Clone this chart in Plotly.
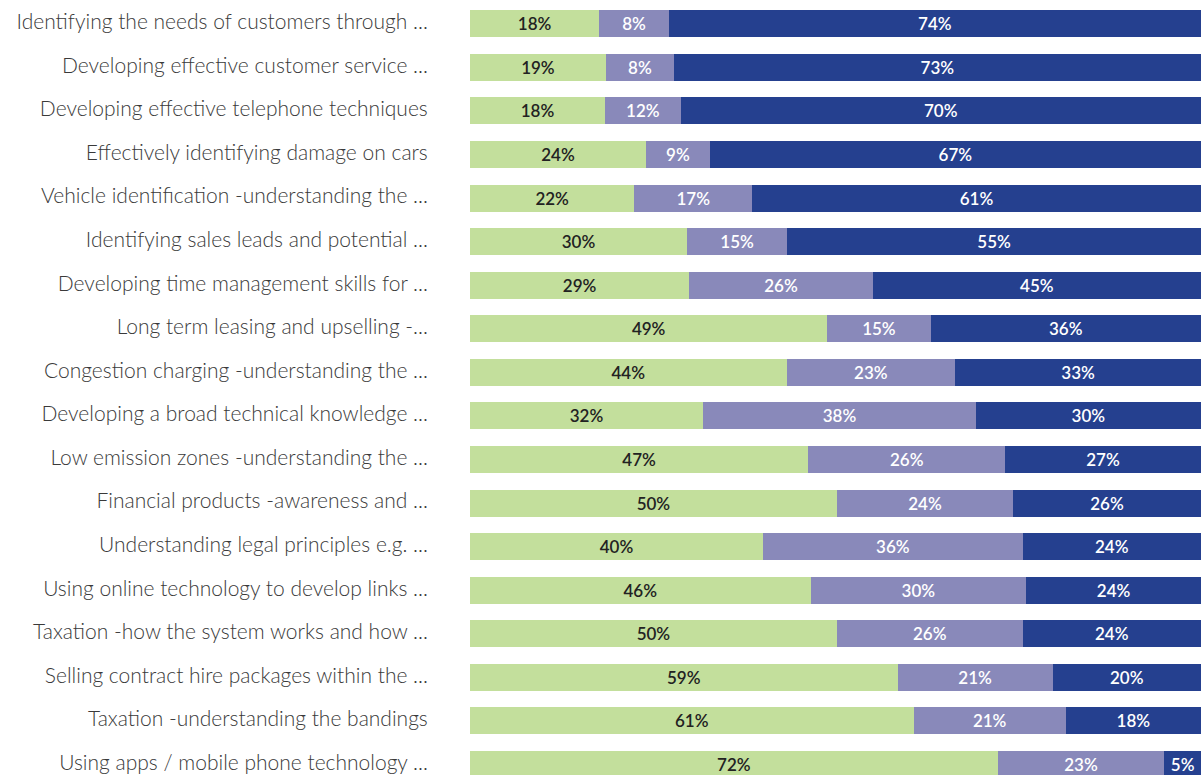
import plotly.graph_objects as go

categories = [
    "Identifying the needs of customers through ...",
    "Developing effective customer service ...",
    "Developing effective telephone techniques",
    "Effectively identifying damage on cars",
    "Vehicle identification -understanding the ...",
    "Identifying sales leads and potential ...",
    "Developing time management skills for ...",
    "Long term leasing and upselling -...",
    "Congestion charging -understanding the ...",
    "Developing a broad technical knowledge ...",
    "Low emission zones -understanding the ...",
    "Financial products -awareness and ...",
    "Understanding legal principles e.g. ...",
    "Using online technology to develop links ...",
    "Taxation -how the system works and how ...",
    "Selling contract hire packages within the ...",
    "Taxation -understanding the bandings",
    "Using apps / mobile phone technology ...",
]

# segment widths (percent of bar)
green_vals = [17.7, 18.6, 18.5, 24.1, 22.5, 29.7, 30.0, 48.9, 43.3, 31.9, 46.3, 50.2, 40.1, 46.6, 50.2, 58.5, 60.7, 72.2]
lav_vals = [9.5, 9.3, 10.3, 8.7, 16.1, 13.7, 25.1, 14.1, 23.1, 37.3, 26.9, 24.1, 35.5, 29.5, 25.4, 21.2, 20.8, 22.8]
blue_vals = [72.8, 72.1, 71.2, 67.2, 61.4, 56.6, 44.9, 37.0, 33.6, 30.8, 26.8, 25.7, 24.4, 23.9, 24.4, 20.3, 18.5, 5.0]

# data labels as printed on the chart
green_labels = ["18%", "19%", "18%", "24%", "22%", "30%", "29%", "49%", "44%", "32%", "47%", "50%", "40%", "46%", "50%", "59%", "61%", "72%"]
lav_labels = ["8%", "8%", "12%", "9%", "17%", "15%", "26%", "15%", "23%", "38%", "26%", "24%", "36%", "30%", "26%", "21%", "21%", "23%"]
blue_labels = ["74%", "73%", "70%", "67%", "61%", "55%", "45%", "36%", "33%", "30%", "27%", "26%", "24%", "24%", "24%", "20%", "18%", "5%"]

FONT = "Lato"

def bar(vals, labels, color, txtcolor):
    return go.Bar(
        y=categories, x=vals, orientation="h",
        marker=dict(color=color, line=dict(width=0)),
        text=labels, textposition="inside", insidetextanchor="middle",
        textangle=0, constraintext="none",
        textfont=dict(family=FONT, size=17, color=txtcolor, weight=600),
        hoverinfo="skip", showlegend=False,
    )

fig = go.Figure([
    bar(green_vals, green_labels, "#c3df9c", "#222222"),
    bar(lav_vals, lav_labels, "#8989ba", "#ffffff"),
    bar(blue_vals, blue_labels, "#25408f", "#ffffff"),
])

fig.update_layout(
    barmode="stack", bargap=0.38,
    width=1201, height=775,
    margin=dict(l=470, r=0, t=2, b=0, autoexpand=False),
    paper_bgcolor="white", plot_bgcolor="white",
    uniformtext=dict(minsize=17, mode="show"),
    font=dict(family=FONT),
)
fig.update_xaxes(range=[0, 100], showgrid=False, zeroline=False,
                 showticklabels=False, showline=False, fixedrange=True,
                 automargin=False)
fig.update_yaxes(type="category", range=[17.24, -0.5], showgrid=False,
                 zeroline=False, showline=False, automargin=False,
                 ticks="outside", ticklen=37, tickcolor="rgba(0,0,0,0)",
                 ticklabelshift=2,
                 tickfont=dict(family=FONT, size=21, color="#3a3a3a", weight=300))

fig.write_html("out.html")
